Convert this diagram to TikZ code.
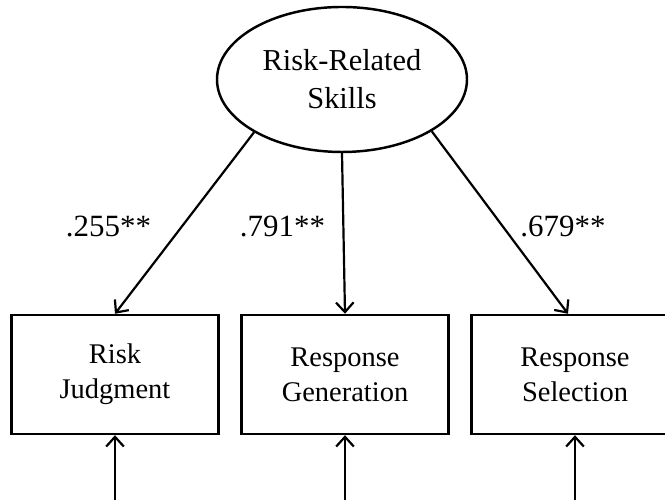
\documentclass[tikz,border=0pt]{standalone}
\usepackage{fontspec}
\setmainfont{Liberation Serif}
\usetikzlibrary{arrows.meta,shapes.geometric}

\begin{document}
\begin{tikzpicture}[every path/.style={line width=1.4pt},
	latent/.style={draw,ellipse,minimum width=5cm,minimum height=2.9cm,inner sep=0pt,align=center,font=\fontsize{17.3}{21.5}\selectfont},
	obs/.style={draw,rectangle,minimum width=4.14cm,minimum height=2.38cm,inner sep=0pt,align=center,font=\fontsize{16.2}{20}\selectfont},
	load/.style={font=\fontsize{17.6}{20}\selectfont},
	>={Straight Barb[length=5.5pt,width=10pt]}]
						\useasboundingbox (0,0) rectangle (13.3,10);
						\node[latent] (rrs) at (6.84,8.41) {Risk-Related\\Skills};
						\node[obs] (rj) at (2.30,2.51) {Risk\\Judgment};
						\node[obs] (rg) at (6.90,2.51) {Response\\Generation};
						\node[obs] (rs) at (11.50,2.51) {Response\\Selection};
						\draw[->,line width=1.25pt] (rrs.211)--(rj.north);
						\draw[->,line width=1.25pt] (rrs.south)--(rg.north);
						\draw[->,line width=1.25pt] (rrs.-30)--([xshift=-0.14cm]rs.north);
						\node[load] (w1) at (2.17,5.47) {.255**};
						\node[load] (w2) at (5.65,5.47) {.791**};
						\node[load] (w3) at (11.26,5.47) {.679**};
						\coordinate (e1) at (2.30,0);
						\coordinate (e2) at (6.90,0);
						\coordinate (e3) at (11.50,0);
						\draw[->,line width=1.25pt] (e1)--(rj.south);
						\draw[->,line width=1.25pt] (e2)--(rg.south);
						\draw[->,line width=1.25pt] (e3)--(rs.south);
					\end{tikzpicture}
\end{document}
